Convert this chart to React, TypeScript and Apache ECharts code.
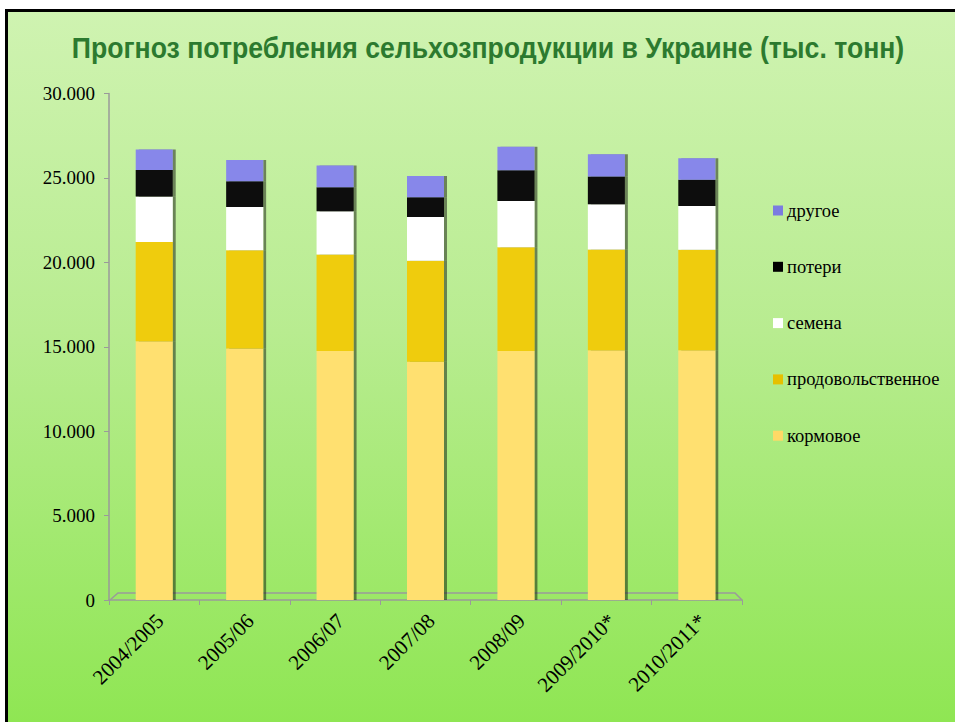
import React, { useEffect, useRef } from "react";
import * as echarts from "echarts";

const categories = ["2004/2005", "2005/06", "2006/07", "2007/08", "2008/09", "2009/2010*", "2010/2011*"];
const kormovoe = [15320, 14900, 14750, 14110, 14750, 14800, 14800];
const prodovolstvennoe = [5880, 5820, 5720, 5980, 6140, 5960, 5940];
const semena = [2700, 2560, 2560, 2600, 2740, 2680, 2590];
const poteri = [1570, 1520, 1420, 1170, 1820, 1640, 1560];
const drugoe = [1210, 1260, 1280, 1260, 1400, 1320, 1270];
const seriesNames = ["кормовое", "продовольственное", "семена", "потери", "другое"];
const seriesColors = ["#ffe070", "#efcc0f", "#ffffff", "#0b0b0b", "#8787ea"];
const legendColors = ["#ffd966", "#e6c000", "#ffffff", "#000000", "#7b7be0"];
const yTicks = { min: 0, max: 30000, interval: 5000 };
const titleText = "Прогноз потребления сельхозпродукции в Украине (тыс. тонн)";

const SERIF = "'Liberation Serif', 'Times New Roman', serif";
const TITLE_FONT = "'Liberation Sans', Arial, sans-serif";

export default function App() {
  const ref = useRef<HTMLDivElement>(null);
  useEffect(() => {
    if (!ref.current) return;
    const chart = echarts.init(ref.current, undefined, { renderer: "svg" });
    const data = [kormovoe, prodovolstvennoe, semena, poteri, drugoe];
    const fmt = (v: number) => String(v).replace(/\B(?=(\d{3})+(?!\d))/g, ".");

    // measure title width to compress it horizontally like a narrow font
    let titleScale = 0.8;
    try {
      const ctx = document.createElement("canvas").getContext("2d");
      if (ctx) {
        ctx.font = "bold 30px " + TITLE_FONT;
        const w = ctx.measureText(titleText).width;
        if (w > 0) titleScale = 833 / w;
      }
    } catch (e) {}

    chart.setOption({
      animation: false,
      backgroundColor: "transparent",
      legend: {
        orient: "vertical",
        left: 773,
        top: 201,
        padding: 0,
        itemWidth: 10,
        itemHeight: 10,
        itemGap: 37.3,
        icon: "rect",
        data: [...seriesNames].reverse().map((n) => ({
          name: n,
          itemStyle: { color: legendColors[seriesNames.indexOf(n)], borderWidth: 0 },
        })),
        textStyle: { fontFamily: SERIF, fontSize: 18.5, color: "#000", lineHeight: 18, padding: [0, 0, 0, -1] },
      },
      grid: { left: 109, right: 213, top: 93.5, bottom: 122, containLabel: false },
      xAxis: {
        type: "category",
        data: categories,
        axisLine: { lineStyle: { color: "#9a9a9a", width: 1.5 } },
        axisTick: { show: true, length: 5, lineStyle: { color: "#9a9a9a" } },
        axisLabel: {
          rotate: 45,
          margin: 23,
          padding: [0, -8, 0, 0],
          fontFamily: SERIF,
          fontSize: 21,
          color: "#000",
          interval: 0,
        },
      },
      yAxis: {
        type: "value",
        min: yTicks.min,
        max: yTicks.max,
        interval: yTicks.interval,
        axisLine: { show: true, lineStyle: { color: "#9a9a9a", width: 1.5 } },
        axisTick: { show: true, length: 5, lineStyle: { color: "#9a9a9a" } },
        splitLine: { show: false },
        axisLabel: { margin: 14, fontFamily: SERIF, fontSize: 19, color: "#000", formatter: fmt },
      },
      graphic: [
        {
          type: "text",
          x: 488,
          y: 47,
          scaleX: titleScale,
          style: {
            text: titleText,
            fontFamily: TITLE_FONT,
            fontWeight: "bold",
            fontSize: 30,
            fill: "#2c7a2f",
            textAlign: "center",
            textVerticalAlign: "middle",
          },
          z: 10,
        },
        {
          type: "polyline",
          shape: { points: [[110, 600], [118, 593], [735, 593], [742, 600]] },
          style: { stroke: "#9a9a9a", lineWidth: 1.5, fill: "none" },
          z: 1,
        },
      ],
      series: seriesNames.map((name, i) => ({
        name,
        type: "bar",
        stack: "total",
        barWidth: 37,
        data: data[i],
        z: 3,
        itemStyle: {
          color: seriesColors[i],
          shadowColor: "rgba(0,0,0,0.45)",
          shadowOffsetX: 3,
          shadowBlur: 1,
        },
      })),
    });
    return () => chart.dispose();
  }, []);
  return (
    <div style={{ position: "fixed", left: 0, top: 0, width: 955, height: 722, background: "#fff", overflow: "hidden" }}>
      <div
        style={{
          position: "absolute",
          left: 5,
          top: 9,
          right: 0,
          bottom: 0,
          borderTop: "3px solid #000",
          borderLeft: "3px solid #000",
          background: "linear-gradient(to bottom, #cff3b1 0%, #b8ec90 45%, #8fe653 100%)",
        }}
      />
      <div ref={ref} style={{ position: "absolute", left: 0, top: 0, width: 955, height: 722 }} />
    </div>
  );
}
